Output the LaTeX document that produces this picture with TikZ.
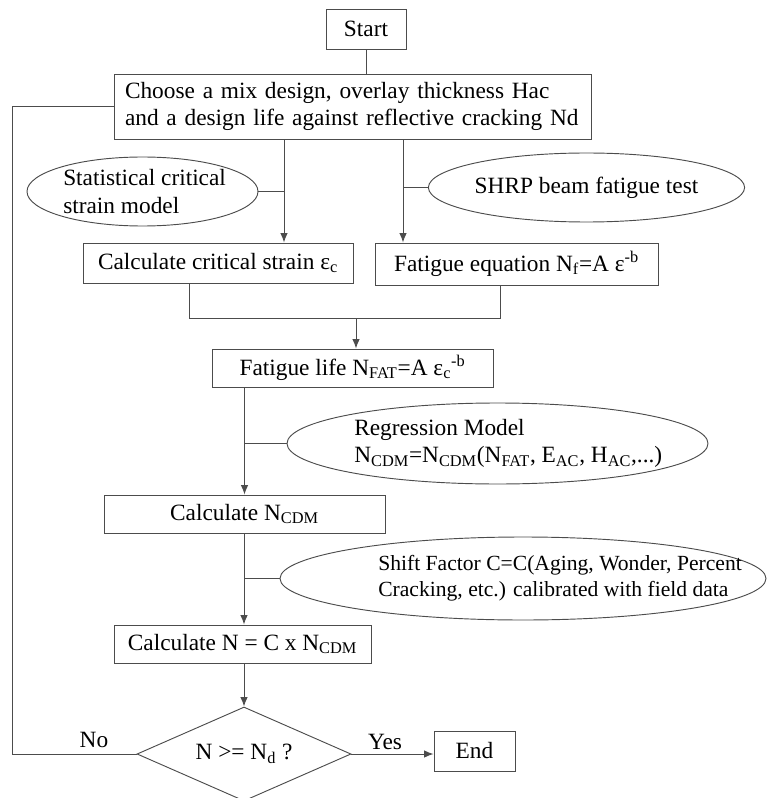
\documentclass[tikz,border=0pt]{standalone}
\usepackage{fontspec}
\setmainfont{Liberation Serif}
\usetikzlibrary{shapes.geometric,arrows.meta}

\tikzset{
  box/.style={draw=black!70, line width=0.7pt, inner sep=0pt},
  oval/.style={ellipse, draw=black!70, line width=0.7pt, inner sep=0pt},
  choice/.style={diamond, aspect=2.3, draw=black!70, line width=0.7pt, inner sep=0pt},
  link/.style={draw=black!70, line width=0.7pt},
  arrow/.style={link, -{Latex[length=7pt,width=5.5pt]}},
}

\begin{document}
\begin{tikzpicture}[x=0.75pt, y=-0.75pt, font=\fontsize{17.5}{20.5}\selectfont]
  \useasboundingbox (0,0) rectangle (767,798);

  % boxes of the main flow
  \node[box, minimum width=60pt, minimum height=30pt] (start) at (366,29) {Start};
  \node[box, text width=341.25pt, inner xsep=8.25pt, minimum height=48.75pt, align=left] (choose) at (352.5,106.5)
    {Choose a mix design, overlay thickness Hac\\and a design life against reflective cracking Nd};
  \node[box, minimum width=202.5pt, minimum height=30pt] (strain) at (218,263)
    {Calculate critical strain ε\textsubscript{c}};
  \node[box, minimum width=212.25pt, minimum height=31.5pt] (eq) at (516.5,264)
    {Fatigue equation N\textsubscript{f}=A ε\textsuperscript{-b}};
  \node[box, minimum width=210.75pt, minimum height=28.5pt] (life) at (352.5,368)
    {Fatigue life N\textsubscript{FAT}=A ε\textsubscript{c}\textsuperscript{-b}};
  \node[box, minimum width=210.75pt, minimum height=28.5pt] (cdm) at (244.5,514)
    {Calculate N\textsubscript{CDM}};
  \node[box, minimum width=192.75pt, minimum height=28.5pt] (calcn) at (242.5,644)
    {Calculate N = C x N\textsubscript{CDM}};
  \node[choice, minimum width=160.5pt, minimum height=70.5pt] (dec) at (244,754)
    {N >= N\textsubscript{d} ?};
  \node[box, minimum width=60.75pt, minimum height=30pt] (end) at (474.5,751) {End};

  % side inputs
  \node[oval, minimum width=173.25pt, minimum height=51.75pt] (stat) at (142.5,191.5) {};
  \node[anchor=west, align=left, inner sep=0pt] (stat-t) at (63,191.5)
    {Statistical critical\\strain model};
  \node[oval, minimum width=222.75pt, minimum height=51.75pt] (shrp) at (586.5,187.5)
    {SHRP beam fatigue test};
  \node[oval, minimum width=315.75pt, minimum height=60.75pt] (reg) at (497.5,443.5) {};
  \node[anchor=west, align=left, inner sep=0pt] (reg-t) at (354,443.5)
    {Regression Model\\N\textsubscript{CDM}=N\textsubscript{CDM}(N\textsubscript{FAT}, E\textsubscript{AC}, H\textsubscript{AC},...)};
  \node[oval, minimum width=364.5pt, minimum height=62.25pt] (shift) at (523,578.5) {};
  \node[anchor=west, align=left, inner sep=0pt, font=\fontsize{16.2}{19.5}\selectfont] (shift-t) at (378,578.5)
    {Shift Factor C=C(Aging, Wonder, Percent\\Cracking, etc.) calibrated with field data};

  % branch labels
  \node (no) at (94,740) {No};
  \node (yes) at (385,742) {Yes};

  % helper points
  \coordinate (lt) at (284,0);
  \coordinate (rt) at (403,0);
  \coordinate (ml) at (189,318);
  \coordinate (mr) at (500,318);
  \coordinate (mrg) at (356,318);
  \coordinate (back) at (12,754);

  % connectors
  \draw[link] (start.south) -- (start.south |- choose.north);
  \draw[arrow] (lt |- choose.south) -- (lt |- strain.north);
  \draw[arrow] (rt |- choose.south) -- (rt |- eq.north);
  \draw[link] (stat.east) -- (stat.east -| lt);
  \draw[link] (shrp.west) -- (shrp.west -| rt);
  \draw[link] (ml |- strain.south) -- (ml) -- (mr) -- (mr |- eq.south);
  \draw[arrow] (mrg) -- (mrg |- life.north);
  \draw[arrow] (life.south -| cdm.north) -- (cdm.north);
  \draw[link] (reg.west) -- (reg.west -| cdm.north);
  \draw[arrow] (cdm.south -| dec.north) -- (dec.north |- calcn.north);
  \draw[link] (shift.west) -- (shift.west -| dec.north);
  \draw[arrow] (calcn.south -| dec.north) -- (dec.north);
  \draw[arrow] (dec.east) -- (dec.east -| end.west);
  \draw[link] (dec.west) -- (back) |- (choose.west);
\end{tikzpicture}
\end{document}
